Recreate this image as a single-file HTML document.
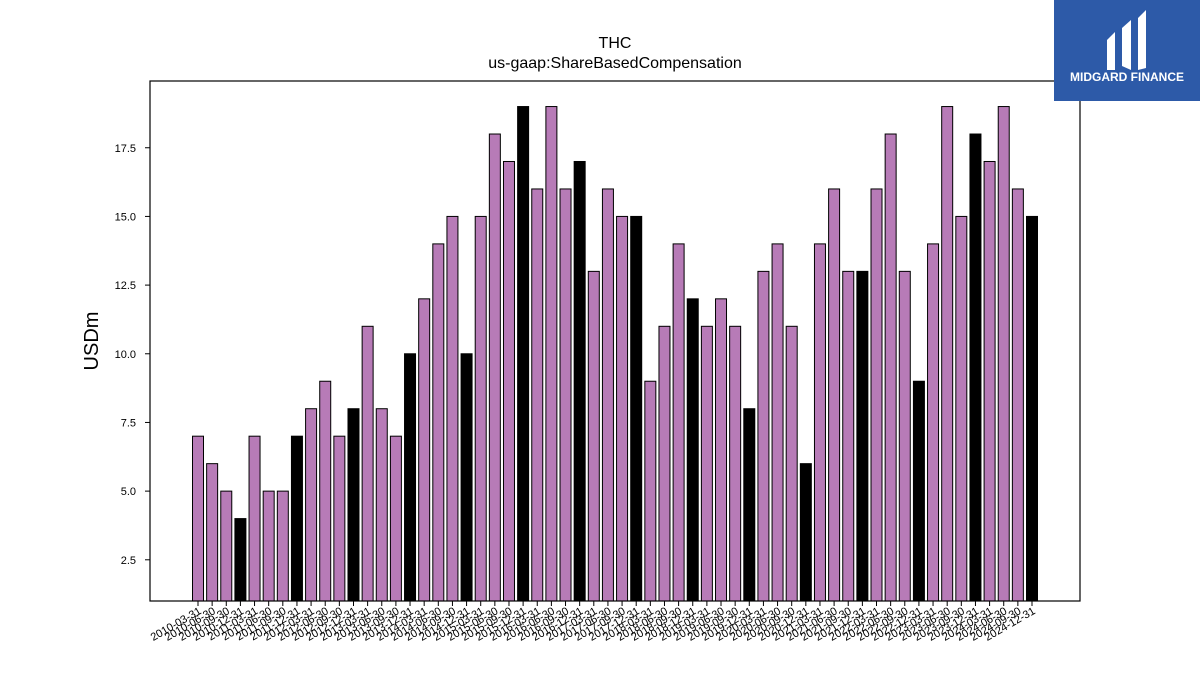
<!DOCTYPE html>
<html><head><meta charset="utf-8"><style>
body{margin:0;background:#fff;font-family:"Liberation Sans",sans-serif}
</style></head><body>
<svg id="c" width="1200" height="675" xmlns="http://www.w3.org/2000/svg" font-family="Liberation Sans, sans-serif">
<rect width="1200" height="675" fill="#fff"/>
<text x="615" y="48" font-size="16" text-anchor="middle">THC</text>
<text x="615" y="68" font-size="16" text-anchor="middle">us-gaap:ShareBasedCompensation</text>
<text transform="translate(98,341) rotate(-90)" font-size="20" text-anchor="middle">USDm</text>
<g id="bars"></g><g id="yt"></g><g id="xt"></g>
<rect x="150" y="81" width="930" height="520" fill="none" stroke="#000" stroke-width="1.2"/>
<g>
<rect x="1054" y="0" width="146" height="101" fill="#2d5aa8"/>
<path d="M1107 40 L1115 32 L1115 70 L1107 70 Z M1122 28 L1131 20 L1131 70 L1122 66 Z M1138 18 L1146 10 L1146 68 L1138 70 Z" fill="#fff"/>
<text x="1127" y="81" font-size="12" font-weight="bold" fill="#fff" text-anchor="middle">MIDGARD FINANCE</text>
</g>
</svg>
<script>
const categories=[];for(let yr=2010;yr<=2024;yr++){for(const q of ["03-31","06-30","09-30","12-31"])categories.push(yr+"-"+q);}
const values=[7,6,5,4,7,5,5,7,8,9,7,8,11,8,7,10,12,14,15,10,15,18,17,19,16,19,16,17,13,16,15,15,9,11,14,12,11,12,11,8,13,14,11,6,14,16,13,13,16,18,13,9,14,19,15,18,17,19,16,15];
const yTicks=[2.5,5.0,7.5,10.0,12.5,15.0,17.5];
(function(){
const NS="http://www.w3.org/2000/svg";
const yMin=1.0,yMax=19.93,plotTop=81,plotBot=601;
const sy=v=>plotBot-(v-yMin)/(yMax-yMin)*(plotBot-plotTop);
const x0=198,step=(1032-198)/59;
const sx=i=>x0+i*step;
const bw=11;
const bars=document.getElementById('bars'),yt=document.getElementById('yt'),xt=document.getElementById('xt');
function mk(t,a){const e=document.createElementNS(NS,t);for(const k in a)e.setAttribute(k,a[k]);return e;}
values.forEach((v,i)=>{
 const r=mk('rect',{x:sx(i)-bw/2,y:sy(v),width:bw,height:plotBot-sy(v),fill:categories[i].endsWith('12-31')?'#000':'#b77bb7',stroke:'#000','stroke-width':1});
 
 
 bars.appendChild(r);
 const tk=mk('line',{x1:sx(i),x2:sx(i),y1:plotBot,y2:plotBot+5,stroke:'#000'});
 
 
 xt.appendChild(tk);
 const t=mk('text',{transform:`translate(${sx(i)+4},${plotBot+12}) rotate(-30)`,'font-size':11,'text-anchor':'end'});
 t.textContent=categories[i];
 
 
 xt.appendChild(t);
});
yTicks.forEach(v=>{
 const tk=mk('line',{x1:145,x2:150,y1:sy(v),y2:sy(v),stroke:'#000'});
 
 
 yt.appendChild(tk);
 const t=mk('text',{x:136,y:sy(v)+4,'font-size':11,'text-anchor':'end'});
 t.textContent=v.toFixed(1);
 
 
 yt.appendChild(t);
});
})();
</script>
</body></html>
